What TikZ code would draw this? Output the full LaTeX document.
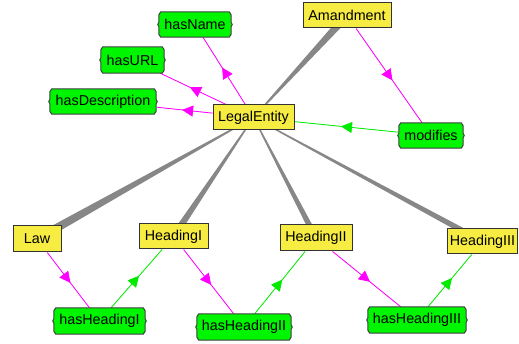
\documentclass[tikz,border=0pt]{standalone}
\usepackage{fontspec}
\setmainfont{Liberation Sans}
\usetikzlibrary{calc,backgrounds,decorations.markings,arrows.meta}
\definecolor{cyellow}{RGB}{246,236,66}
\definecolor{cgreen}{RGB}{0,245,0}
\definecolor{cmag}{RGB}{255,0,255}
\definecolor{cgrn}{RGB}{0,235,0}
\definecolor{cwedge}{RGB}{135,135,135}
\tikzset{
  cls/.style={draw=black!80,line width=1pt,fill=cyellow,inner sep=0pt,
    font=\fontsize{14.3}{16}\selectfont,minimum height=25pt},
  prop/.style={inner sep=0pt,font=\fontsize{14.3}{16}\selectfont,minimum height=25pt},
  propfill/.style={draw=black!75,line width=1pt,fill=cgreen},
  midarrow/.style={postaction={decorate},decoration={markings,
    mark=at position 0.55 with {\arrow{Triangle[length=11pt,width=11pt]}}}},
  magedge/.style={draw=cmag,fill=cmag,line width=0.8pt,midarrow},
  grnedge/.style={draw=cgrn,fill=cgrn,line width=0.8pt,midarrow},
}
\newcommand{\propshape}[1]{%
  \filldraw[propfill] ($(#1.north west)+(3,0)$) -- ($(#1.north east)+(-3,0)$)
   -- ($(#1.north east)+(-1,3)$) -- ($(#1.east)+(-1,-2)$) -- (#1.east)
   -- ($(#1.east)+(-1,2)$) -- ($(#1.south east)+(-1,-3)$)
   -- ($(#1.south east)+(-3,0)$) -- ($(#1.south west)+(3,0)$)
   -- ($(#1.south west)+(1,-3)$) -- ($(#1.west)+(1,2)$) -- (#1.west)
   -- ($(#1.west)+(1,-2)$) -- ($(#1.north west)+(1,3)$) -- cycle;}
\newcommand{\wedgeline}[4]{% thin node, thick node, thin half width, thick half width
  \fill[cwedge] ($(#1)!#3!90:(#2)$) -- ($(#2)!#4!-90:(#1)$)
   -- ($(#2)!#4!90:(#1)$) -- ($(#1)!#3!-90:(#2)$) -- cycle;}
\begin{document}
\begin{tikzpicture}[x=1pt,y=-1pt]
\useasboundingbox (0,0) rectangle (519,344);
% classes
\node[cls,minimum width=88pt] (am) at (347,15.5) {Amandment};
\node[cls,minimum width=81pt] (le) at (253.5,117.5) {LegalEntity};
\node[cls,minimum width=48pt,minimum height=26pt] (law) at (37,239) {Law};
\node[cls,minimum width=69pt] (h1) at (173.5,236.5) {HeadingI};
\node[cls,minimum width=72pt,minimum height=26pt] (h2) at (316,238) {HeadingII};
\node[cls,minimum width=70pt] (h3) at (482.5,241.5) {HeadingIII};
% properties
\node[prop,minimum width=74pt] (hn) at (195,24.5) {hasName};
\node[prop,minimum width=65pt,minimum height=26pt] (hu) at (132.5,60) {hasURL};
\node[prop,minimum width=108pt] (hd) at (103,101.5) {hasDescription};
\node[prop,minimum width=66pt] (mo) at (431,135.5) {modifies};
\node[prop,minimum width=93pt,minimum height=26pt] (hh1) at (99.5,321) {hasHeadingI};
\node[prop,minimum width=96pt,minimum height=26pt] (hh2) at (244,327) {hasHeadingII};
\node[prop,minimum width=100pt,minimum height=26pt] (hh3) at (417,320) {hasHeadingIII};
\begin{pgfonlayer}{background}
\fill[white] (0,0) rectangle (519,344);
% subclass wedges
\wedgeline{le.center}{am.center}{0.5pt}{4pt}
\wedgeline{le.center}{law.center}{0.5pt}{4.5pt}
\wedgeline{le.center}{h1.center}{0.5pt}{3.5pt}
\wedgeline{le.center}{h2.center}{0.5pt}{3pt}
\wedgeline{le.center}{h3.center}{0.5pt}{3pt}
% property edges
\path[magedge] (le) -- (hn);
\path[magedge] (le) -- (hu);
\path[magedge] (le) -- (hd);
\path[magedge] (am) -- (mo);
\path[grnedge] (mo) -- (le);
\path[magedge] (law) -- (hh1);
\path[grnedge] (hh1) -- (h1);
\path[magedge] (h1) -- (hh2);
\path[grnedge] (hh2) -- (h2);
\path[magedge] (h2) -- (hh3);
\path[grnedge] (hh3) -- (h3);
% property shapes
\propshape{hn}\propshape{hu}\propshape{hd}\propshape{mo}
\propshape{hh1}\propshape{hh2}\propshape{hh3}
\end{pgfonlayer}
\end{tikzpicture}
\end{document}
